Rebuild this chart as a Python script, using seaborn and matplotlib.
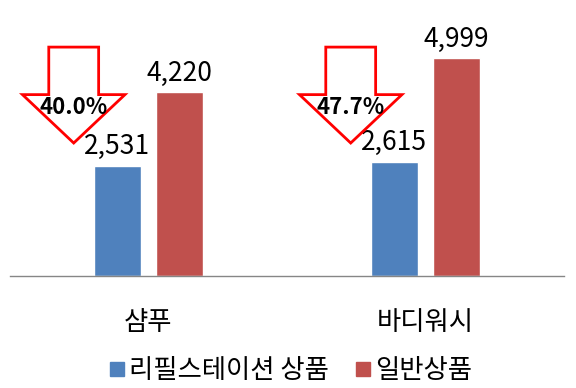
import matplotlib.pyplot as plt
from matplotlib.patches import Polygon
from matplotlib.lines import Line2D
import pandas as pd
import seaborn as sns

products = ['샴푸', '바디워시']
series = ['리필스테이션 상품', '일반상품']
refill_values = [2531, 2615]
normal_values = [4220, 4999]
colors = ['#4F81BD', '#C0504D']

sns.set_style('white')
plt.rcParams['font.family'] = ['Noto Sans CJK KR', 'DejaVu Sans']
plt.rcParams['text.color'] = 'black'
plt.rcParams['xtick.color'] = 'black'

df = pd.DataFrame({
    'product': products * 2,
    'type': [series[0]] * 2 + [series[1]] * 2,
    'value': refill_values + normal_values,
})

fig = plt.figure(figsize=(5.76, 3.88), dpi=100)
ax = fig.add_axes([10 / 576, 112 / 388, 554 / 576, 261.6 / 388])

sns.barplot(data=df, x='product', y='value', hue='type', hue_order=series,
            palette=colors, width=0.45, gap=0.24, saturation=1, legend=False, ax=ax)

# value labels above bars
for cont in ax.containers:
    ax.bar_label(cont, labels=[f'{v:,.0f}' for v in cont.datavalues],
                 padding=4, fontsize=19, color='black')

ax.set_xlim(-0.5, 1.5)
ax.set_ylim(0, 6000)
ax.set_xlabel('')
ax.set_ylabel('')
ax.set_yticks([])
for s in ['left', 'top', 'right']:
    ax.spines[s].set_visible(False)
ax.spines['bottom'].set_color('#868686')
ax.spines['bottom'].set_linewidth(1)

ax.set_xticks([0, 1])
ax.set_xticklabels(products, fontsize=19)
ax.tick_params(axis='x', which='major', length=0, pad=24, labelcolor='black')
ax.set_xticks([-0.5, 0.5, 1.5], minor=True)
ax.tick_params(axis='x', which='minor', length=8, color='#868686', width=1)


# red outlined "down" arrows with reduction rate
def down_arrow(ax, xc, top, tip, neck, half_w, half_shaft):
    pts = [(xc - half_shaft, top), (xc + half_shaft, top), (xc + half_shaft, neck),
           (xc + half_w, neck), (xc, tip), (xc - half_w, neck), (xc - half_shaft, neck)]
    ax.add_patch(Polygon(pts, closed=True, facecolor='white', edgecolor='#FF0000',
                         linewidth=2, zorder=3))


for i in range(len(products)):
    rate = (1 - refill_values[i] / normal_values[i]) * 100
    xc = i - 0.27
    down_arrow(ax, xc, 5250, 3050, 4160, 0.185, 0.09)
    ax.text(xc, 3870, f'{rate:.1f}%', ha='center', va='center', fontsize=16,
            fontweight='bold', color='black', zorder=4)

handles = [Line2D([], [], marker='s', linestyle='', markersize=9.5,
                  markerfacecolor=c, markeredgecolor=c) for c in colors]
fig.legend(handles, series, loc='center', bbox_to_anchor=(0.505, 0.044),
           ncol=2, frameon=False, fontsize=19, handlelength=0.6,
           handletextpad=0.15, columnspacing=1.0)

fig.savefig('out.png', dpi=100)
